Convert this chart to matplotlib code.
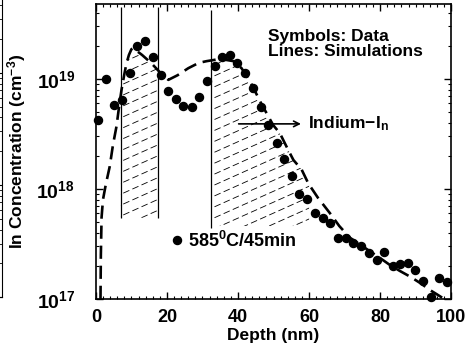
import numpy as np
import matplotlib
matplotlib.use("Agg")
import matplotlib.pyplot as plt
from matplotlib.patches import Polygon
from matplotlib.ticker import FuncFormatter, LogLocator, MultipleLocator

plt.rcParams['font.family'] = ['Liberation Sans', 'DejaVu Sans']
plt.rcParams['font.weight'] = 'bold'
plt.rcParams['mathtext.fontset'] = 'custom'
plt.rcParams['mathtext.rm'] = 'Liberation Sans:bold'
plt.rcParams['mathtext.it'] = 'Liberation Sans:bold'
plt.rcParams['mathtext.bf'] = 'Liberation Sans:bold'

# SIMS data (symbols)
data_x = [0.6, 2.8, 5.1, 7.3, 9.5, 11.5, 13.8, 16.0, 18.2, 20.4, 22.5, 24.6, 27.0, 29.0,
          31.2, 33.5, 35.6, 37.7, 39.8, 42.0, 44.1, 46.5, 48.5, 50.9, 53.0, 55.1, 57.2,
          59.4, 61.7, 63.9, 65.9, 68.1, 70.3, 72.5, 74.7, 76.9, 79.1, 81.2, 83.5, 85.6,
          87.9, 89.9, 92.1, 94.3, 96.5, 98.8]
data_y = [4.2e18, 1.0e19, 5.8e18, 6.4e18, 1.12e19, 2.0e19, 2.23e19, 1.57e19, 1.08e19,
          7.8e18, 6.5e18, 5.7e18, 5.5e18, 6.9e18, 9.5e18, 1.32e19, 1.57e19, 1.66e19,
          1.4e19, 1.14e19, 8.2e18, 5.5e18, 3.8e18, 2.6e18, 1.86e18, 1.31e18, 8.95e17,
          8.1e17, 6.1e17, 5.45e17, 4.9e17, 3.56e17, 3.6e17, 3.25e17, 3.0e17, 2.6e17,
          2.26e17, 2.66e17, 2.0e17, 2.07e17, 2.1e17, 1.84e17, 1.47e17, 1.04e17, 1.54e17,
          1.43e17]

# simulation (dashed line)
sim_x = [1.3, 1.4, 1.6, 2.0, 2.8, 3.9, 4.8, 5.8, 6.5, 7.2, 8.0, 8.6, 9.3, 10.0, 10.5,
         13.0, 15.5, 18.0, 20.4, 23.0, 26.0, 29.0, 31.2, 34.0, 36.0, 38.7, 41.0, 43.4,
         46.5, 49.9, 51.8, 54.0, 55.6, 57.9, 59.8, 62.5, 65.9, 68.5, 71.5, 74.5, 77.2,
         80.0, 82.8, 85.5, 88.5, 91.5, 94.1, 96.0, 97.8]
sim_y = [1.0e17, 2.5e17, 5.5e17, 8.0e17, 1.1e18, 1.6e18, 2.5e18, 3.7e18, 5.5e18, 7.9e18,
         1.1e19, 1.38e19, 1.65e19, 1.86e19, 1.9e19, 1.65e19, 1.4e19, 1.15e19, 9.8e18,
         1.08e19, 1.25e19, 1.4e19, 1.45e19, 1.5e19, 1.5e19, 1.45e19, 1.25e19, 9.5e18,
         6.0e18, 3.8e18, 3.2e18, 2.3e18, 1.83e18, 1.5e18, 1.12e18, 8.3e17, 6.0e17,
         4.6e17, 3.6e17, 3.1e17, 2.7e17, 2.35e17, 2.03e17, 1.8e17, 1.59e17, 1.38e17,
         1.2e17, 1.1e17, 1.01e17]

# hatched In-I_n regions: (x start, x end, bottom level)
region_x0 = [7.0, 32.4]
region_x1 = [17.5, 60.0]
region_bottom = [5.45e17, 4.6e17]
vline_x = [7.0, 17.5, 32.4]
vline_bottom = [5.45e17, 5.45e17, 4.4e17]
vline_top = [4.5e19, 4.5e19, 4.2e19]

fig = plt.figure(figsize=(4.7, 3.58), dpi=100)
ax = fig.add_axes([0.204, 0.165, 0.756, 0.824])
ax.set_yscale('log')
ax.set_xlim(0, 100)
ax.set_ylim(1e17, 4.8e19)

# edge of the neighbouring panel that was cut off
ax0 = fig.add_axes([-0.5, 0.17, 0.504, 0.84])
ax0.set_yscale('log')
ax0.set_ylim(1e17, 4.8e19)
for s in ['left', 'top']:
    ax0.spines[s].set_visible(False)
ax0.tick_params(which='both', direction='in', left=False, right=True, labelleft=False,
                bottom=False, labelbottom=False)

lsim = np.log10(sim_y)
for x0, x1, yb in zip(region_x0, region_x1, region_bottom):
    xs = np.linspace(x0, x1, 60)
    top = 10 ** np.interp(xs, sim_x, lsim)
    verts = list(zip(xs, top)) + [(x1, yb), (x0, yb)]
    clip = Polygon(verts, closed=True, facecolor='none', edgecolor='none',
                   transform=ax.transData)
    ax.add_patch(clip)
    for c in np.arange(-1.2, 1.0, 0.037):
        ln, = ax.plot([0, 1], [c, c + 0.54], transform=ax.transAxes, color='black',
                      lw=0.6, linestyle=(0, (8, 4)))
        ln.set_clip_path(clip)

ax.vlines(vline_x, vline_bottom, vline_top, color='black', lw=0.9)

ax.plot(sim_x, sim_y, color='black', lw=1.9, linestyle=(0, (5, 2.6)))
ax.plot(data_x, data_y, 'o', color='black', markersize=5.8, clip_on=False, zorder=5)

ax.text(0.485, 0.915, 'Symbols: Data\nLines: Simulations', transform=ax.transAxes,
        fontsize=12.5, fontweight='bold', va='top', ha='left', linespacing=1.0)

ax.annotate('', xy=(58.5, 3.9e18), xytext=(39.4, 3.9e18),
            arrowprops=dict(arrowstyle='->', color='black', lw=1.2))
ax.text(59.6, 3.9e18, r'Indium$-$I$_\mathrm{n}$', fontsize=12.5, fontweight='bold',
        va='center', ha='left')

ax.plot([22.8], [3.4e17], 'o', color='black', markersize=5.8)
ax.text(26.0, 3.4e17, r'585$^\mathrm{0}$C/45min', fontsize=13, fontweight='bold',
        va='center', ha='left')

ax.xaxis.set_major_locator(MultipleLocator(20))
ax.xaxis.set_minor_locator(MultipleLocator(2))
ax.yaxis.set_major_locator(LogLocator(base=10, numticks=10))
ax.yaxis.set_minor_locator(LogLocator(base=10, subs=np.arange(2, 10), numticks=10))
ax.yaxis.set_major_formatter(FuncFormatter(lambda v, p: r'$10^{%d}$' % round(np.log10(v))))
ax.tick_params(which='both', direction='in', top=True, right=True)
ax.tick_params(which='major', length=5, width=1)
ax.tick_params(which='minor', length=2.5, width=0.8)
ax.tick_params(axis='x', labelsize=13, pad=7)
ax.tick_params(axis='y', labelsize=14, pad=15)
for lab in ax.get_xticklabels():
    lab.set_fontweight('bold')
for s in ax.spines.values():
    s.set_linewidth(1.2)

ax.set_xlabel('Depth (nm)', fontsize=12.5, fontweight='bold', labelpad=2)
ax.set_ylabel(r'In Concentration (cm$^{-3}$)', fontsize=12.5, fontweight='bold', labelpad=6)

fig.savefig('out.png', dpi=100)
